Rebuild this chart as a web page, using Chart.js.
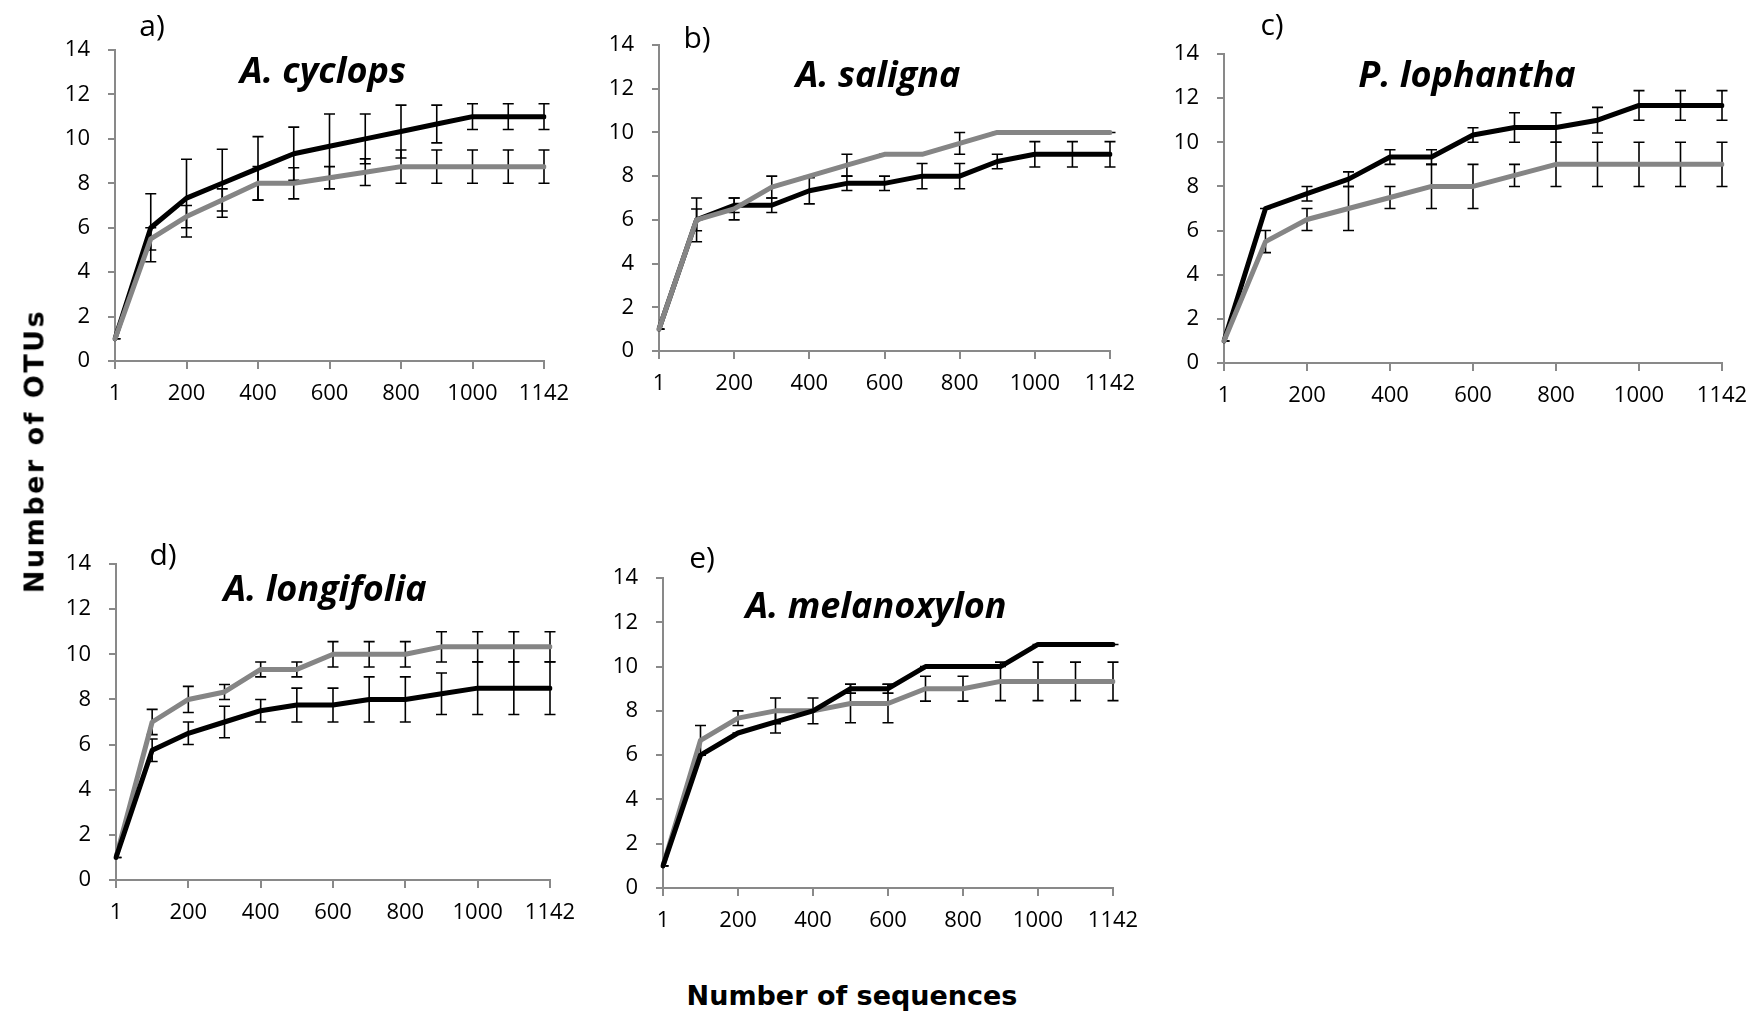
<!DOCTYPE html>
<html>
<head>
<meta charset="utf-8">
<title>OTU rarefaction curves</title>
<script src="https://cdn.jsdelivr.net/npm/chart.js@4.4.0/dist/chart.umd.min.js"></script>
<style>
  html, body { margin: 0; padding: 0; background: #fff; overflow: hidden; }
  #figure { position: relative; width: 1753px; height: 1016px; overflow: hidden; }
  #figure canvas { position: absolute; }
  .lbl { position: absolute; transform: translate(-50%, -50%); white-space: nowrap; color: #000; line-height: 1; }
  .letter { font: 400 30px "Open Sans", sans-serif; }
  .species { font: italic 700 36px "Open Sans", sans-serif; }
  .axisTitle { font: 700 27px "DejaVu Sans", sans-serif; }
  .vertical { transform: translate(-50%, -50%) rotate(-90deg); letter-spacing: 2.5px; }
</style>
</head>
<body>
<div id="figure"></div>
<script>
/* global Chart */

// sampling depths (number of sequences); only every other one gets a label
const sequenceLabels = ["1", "100", "200", "300", "400", "500", "600", "700", "800", "900", "1000", "1100", "1142"];

// mean OTUs and +/- error per depth, black and grey curve for each host

// a) A. cyclops
const cyclopsBlack    = [1, 6, 7.33, 8, 8.67, 9.33, 9.67, 10, 10.33, 10.67, 11, 11, 11];
const cyclopsBlackErr = [0, 1.53, 1.75, 1.53, 1.43, 1.2, 1.45, 1.12, 1.19, 0.85, 0.58, 0.58, 0.58];
const cyclopsGray     = [1, 5.5, 6.5, 7.25, 8, 8, 8.25, 8.5, 8.75, 8.75, 8.75, 8.75, 8.75];
const cyclopsGrayErr  = [0, 0.5, 0.5, 0.5, 0.75, 0.7, 0.5, 0.6, 0.75, 0.75, 0.75, 0.75, 0.75];

// b) A. saligna
const salignaBlack    = [1, 6, 6.67, 6.67, 7.33, 7.67, 7.67, 8, 8, 8.67, 9, 9, 9];
const salignaBlackErr = [0, 1, 0.33, 0.33, 0.6, 0.33, 0.33, 0.58, 0.58, 0.33, 0.58, 0.58, 0.58];
const salignaGray     = [1, 6, 6.5, 7.5, 8, 8.5, 9, 9, 9.5, 10, 10, 10, 10];
const salignaGrayErr  = [0, 0.5, 0.5, 0.5, 0, 0.5, 0, 0, 0.5, 0, 0, 0, 0];

// c) P. lophantha
const lophanthaBlack    = [1, 7, 7.67, 8.33, 9.33, 9.33, 10.33, 10.67, 10.67, 11, 11.67, 11.67, 11.67];
const lophanthaBlackErr = [0, 0, 0.33, 0.33, 0.33, 0.33, 0.33, 0.67, 0.67, 0.58, 0.67, 0.67, 0.67];
const lophanthaGray     = [1, 5.5, 6.5, 7, 7.5, 8, 8, 8.5, 9, 9, 9, 9, 9];
const lophanthaGrayErr  = [0, 0.5, 0.5, 1, 0.5, 1, 1, 0.5, 1, 1, 1, 1, 1];

// d) A. longifolia
const longifoliaBlack    = [1, 5.75, 6.5, 7, 7.5, 7.75, 7.75, 8, 8, 8.25, 8.5, 8.5, 8.5];
const longifoliaBlackErr = [0, 0.5, 0.5, 0.7, 0.5, 0.75, 0.75, 1, 1, 0.92, 1.17, 1.17, 1.17];
const longifoliaGray     = [1, 7, 8, 8.33, 9.33, 9.33, 10, 10, 10, 10.33, 10.33, 10.33, 10.33];
const longifoliaGrayErr  = [0, 0.56, 0.58, 0.33, 0.33, 0.33, 0.56, 0.56, 0.56, 0.67, 0.67, 0.67, 0.67];

// e) A. melanoxylon
const melanoxylonBlack    = [1, 6, 7, 7.5, 8, 9, 9, 10, 10, 10, 11, 11, 11];
const melanoxylonBlackErr = [0, 0, 0, 0.5, 0, 0.2, 0.2, 0, 0, 0, 0, 0, 0];
const melanoxylonGray     = [1, 6.67, 7.67, 8, 8, 8.33, 8.33, 9, 9, 9.33, 9.33, 9.33, 9.33];
const melanoxylonGrayErr  = [0, 0.67, 0.33, 0.58, 0.58, 0.87, 0.87, 0.56, 0.56, 0.87, 0.87, 0.87, 0.87];

const panels = [
  { letter: "a)", species: "A. cyclops",     black: cyclopsBlack,     blackErr: cyclopsBlackErr,     gray: cyclopsGray,     grayErr: cyclopsGrayErr },
  { letter: "b)", species: "A. saligna",     black: salignaBlack,     blackErr: salignaBlackErr,     gray: salignaGray,     grayErr: salignaGrayErr },
  { letter: "c)", species: "P. lophantha",   black: lophanthaBlack,   blackErr: lophanthaBlackErr,   gray: lophanthaGray,   grayErr: lophanthaGrayErr },
  { letter: "d)", species: "A. longifolia",  black: longifoliaBlack,  blackErr: longifoliaBlackErr,  gray: longifoliaGray,  grayErr: longifoliaGrayErr },
  { letter: "e)", species: "A. melanoxylon", black: melanoxylonBlack, blackErr: melanoxylonBlackErr, gray: melanoxylonGray, grayErr: melanoxylonGrayErr },
];

// where each plot area sits on the page, and where its captions go
const layout = [
  { l: 115, r: 544,  t: 50,  b: 361, grayOnTop: true,  letterAt: [152, 24],  speciesAt: [323, 69] },
  { l: 659, r: 1110, t: 45,  b: 351, grayOnTop: true,  letterAt: [697, 36],  speciesAt: [878, 73] },
  { l: 1224, r: 1722, t: 54, b: 363, grayOnTop: true,  letterAt: [1272, 23], speciesAt: [1467, 73] },
  { l: 116, r: 550,  t: 564, b: 880, grayOnTop: false, letterAt: [163, 553], speciesAt: [325, 587] },
  { l: 663, r: 1113, t: 578, b: 888, grayOnTop: false, letterAt: [702, 556], speciesAt: [876, 604] },
];

// fixed axis boxes so the plot area lands exactly where the layout says
const Y_AXIS_W = 70;
const X_AXIS_H = 60;
const PAD_TOP = 34;
const PAD_RIGHT = 42;
const AXIS_GREY = "#898989";
const LINE_GREY = "#858585";

// Excel-style error bars, drawn under the curves
const errorBars = {
  id: "errorBars",
  beforeDatasetsDraw(chart) {
    const { ctx, chartArea } = chart;
    const y = chart.scales.y;
    ctx.save();
    ctx.beginPath();
    ctx.rect(chartArea.left, chartArea.top - 20, chartArea.right - chartArea.left + 10, chartArea.bottom - chartArea.top + 20);
    ctx.clip();
    ctx.strokeStyle = "#000";
    ctx.lineWidth = 1.6;
    chart.data.datasets.forEach((ds, i) => {
      const meta = chart.getDatasetMeta(i);
      meta.data.forEach((pt, j) => {
        const err = ds.errors[j];
        const hi = y.getPixelForValue(ds.data[j] + err);
        const lo = y.getPixelForValue(ds.data[j] - err);
        ctx.beginPath();
        ctx.moveTo(pt.x, hi); ctx.lineTo(pt.x, lo);
        ctx.moveTo(pt.x - 5.5, hi); ctx.lineTo(pt.x + 5.5, hi);
        ctx.moveTo(pt.x - 5.5, lo); ctx.lineTo(pt.x + 5.5, lo);
        ctx.stroke();
      });
    });
    ctx.restore();
  },
};

function addText(cls, text, x, y) {
  const el = document.createElement("div");
  el.className = "lbl " + cls;
  el.textContent = text;
  el.style.left = x + "px";
  el.style.top = y + "px";
  document.getElementById("figure").appendChild(el);
}

function renderPanel(p, box) {
  const canvas = document.createElement("canvas");
  const w = box.r - box.l + Y_AXIS_W + PAD_RIGHT;
  const h = box.b - box.t + PAD_TOP + X_AXIS_H;
  canvas.width = w;
  canvas.height = h;
  canvas.style.left = (box.l - Y_AXIS_W) + "px";
  canvas.style.top = (box.t - PAD_TOP) + "px";
  canvas.style.width = w + "px";
  canvas.style.height = h + "px";
  document.getElementById("figure").appendChild(canvas);

  const lineStyle = {
    borderWidth: 5,
    pointRadius: 0,
    tension: 0,
    borderCapStyle: "round",
    borderJoinStyle: "round",
    fill: false,
  };

  // eslint-disable-next-line no-new
  new Chart(canvas, {
    type: "line",
    data: {
      labels: sequenceLabels,
      datasets: [
        { ...lineStyle, label: "black", data: p.black, errors: p.blackErr, borderColor: "#000", order: box.grayOnTop ? 1 : 0 },
        { ...lineStyle, label: "grey", data: p.gray, errors: p.grayErr, borderColor: LINE_GREY, order: box.grayOnTop ? 0 : 1 },
      ],
    },
    options: {
      responsive: false,
      animation: false,
      devicePixelRatio: 1,
      layout: { padding: { top: PAD_TOP, right: PAD_RIGHT, left: 0, bottom: 0 } },
      plugins: { legend: { display: false }, tooltip: { enabled: false } },
      scales: {
        x: {
          type: "category",
          offset: false,
          afterFit: (s) => { s.height = X_AXIS_H; },
          border: { display: true, color: AXIS_GREY, width: 2 },
          grid: { drawOnChartArea: false, drawTicks: true, tickLength: 8, color: AXIS_GREY, lineWidth: 2 },
          ticks: {
            autoSkip: false,
            maxRotation: 0,
            padding: 12,
            color: "#000",
            font: { family: "Open Sans", size: 22 },
            callback: (v, i) => (i % 2 === 0 ? sequenceLabels[i] : null),
          },
        },
        y: {
          min: 0,
          max: 14,
          afterFit: (s) => { s.width = Y_AXIS_W; },
          border: { display: true, color: AXIS_GREY, width: 2 },
          grid: { drawOnChartArea: false, drawTicks: true, tickLength: 7, color: AXIS_GREY, lineWidth: 2 },
          ticks: {
            stepSize: 2,
            padding: 18,
            color: "#000",
            font: { family: "Open Sans", size: 22 },
          },
        },
      },
    },
    plugins: [errorBars],
  });

  addText("letter", p.letter, box.letterAt[0], box.letterAt[1]);
  addText("species", p.species, box.speciesAt[0], box.speciesAt[1]);
}

panels.forEach((p, i) => renderPanel(p, layout[i]));

addText("axisTitle vertical", "Number of OTUs", 34, 451);
addText("axisTitle", "Number of sequences", 852, 995);
</script>
</body>
</html>
